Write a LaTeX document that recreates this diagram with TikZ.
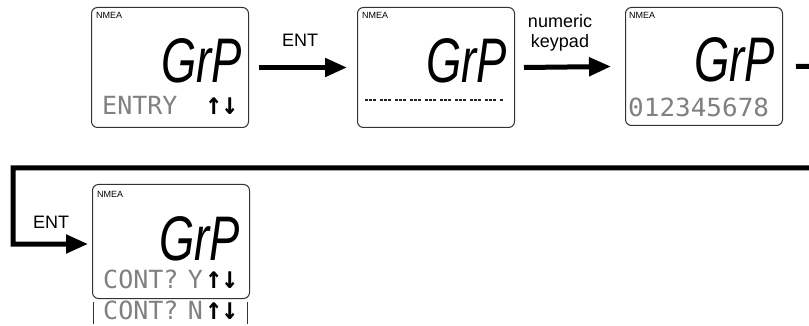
\documentclass[tikz,border=0pt]{standalone}
\usepackage{fontspec}
\setmainfont{Liberation Sans}
\newfontfamily\lcdfont{DejaVu Sans Mono}
\usetikzlibrary{arrows.meta}
\begin{document}
\begin{tikzpicture}[x=1pt,y=-1pt,
  lcdbox/.style={draw=black!80, line width=1pt, rounded corners=6pt, minimum width=157pt, minimum height=120pt, anchor=north west, inner sep=0pt},
  flow/.style={line width=5pt, -{Triangle[length=22pt,width=18pt]}},
  lbl/.style={font=\fontsize{18}{20}\selectfont, inner sep=0pt},
  nmea/.style={font=\fontsize{9}{9}\selectfont, inner sep=0pt, anchor=base west},
  seg/.style={font=\fontsize{63}{63}\selectfont\itshape, xscale=0.72, inner sep=0pt, anchor=base east, text height=46pt, text depth=0pt},
  dot/.style={font=\lcdfont\fontsize{25}{25}\selectfont, text=black!50, inner sep=0pt, text height=18pt, text depth=0pt},
  arr/.style={font=\lcdfont\bfseries\fontsize{27}{27}\selectfont, text=black, inner sep=0pt, anchor=base east, yscale=1.15, xscale=0.98, text height=14pt, text depth=0pt},
  bar/.style={draw=black!80, line width=1pt}
]
\useasboundingbox (0,0) rectangle (809,326);
\clip (0,0) rectangle (809,326);

% LCD boxes
\node[lcdbox] (b1) at (91,7) {};
\node[lcdbox] (b2) at (357,7) {};
\node[lcdbox, minimum height=118pt] (b3) at (625,7) {};
\node[lcdbox, minimum height=114pt] (b4) at (92,184) {};

% NMEA labels
\node[nmea] (n1) at (96,19) {NMEA};
\node[nmea] (n2) at (362,19) {NMEA};
\node[nmea] (n3) at (629,19) {NMEA};
\node[nmea] (n4) at (97,197) {NMEA};

% big segment text
\node[seg] (g1) at (242,83) {GrP};
\node[seg] (g2) at (507,83) {GrP};
\node[seg] (g3) at (775,82) {GrP};
\node[seg] (g4) at (240,260) {GrP};

% bottom lines of the displays
\node[dot, anchor=base west] (e1) at (102,115) {ENTRY};
\node[arr] (a1) at (238,115) {↑↓};
\draw[black!85, line width=1.6pt, dash pattern=on 3pt off 1pt on 3pt off 1pt on 3pt off 4pt] (365,100) -- (503,100);
\node[dot, anchor=base west, xscale=1.04] (d3) at (628,117) {012345678};
\node[dot, anchor=base west] (c4) at (103,288) {CONT?};
\node[dot, anchor=base east] (y4) at (203,288) {Y};
\node[arr] (a4) at (238,288) {↑↓};
\node[dot, anchor=base west] (c5) at (103,319) {CONT?};
\node[dot, anchor=base east] (y5) at (203,319) {N};
\node[arr] (a5) at (238,319) {↑↓};
\draw[bar] (93,302) -- (93,324);
\draw[bar] (247,302) -- (247,324);

% arrows
\draw[flow] ([xshift=10pt]b1.east) -- ([xshift=-10pt]b2.west);
\node[lbl, anchor=base] (t1) at (300,47) {ENT};
\draw[flow] ([xshift=9pt]b2.east) -- ([xshift=-14pt]b3.west);
\node[lbl, align=center, anchor=center] (t2) at (560,33) {numeric\\keypad};
\coordinate (r1) at (830,66);
\coordinate (r2) at (830,168);
\coordinate (l1) at (13,168);
\coordinate (l2) at (13,244);
\draw[flow] ([xshift=13pt]b3.east) -- (r1) -- (r2) -- (l1) -- (l2) -- ([xshift=-4pt]b4.west |- l2);
\node[lbl, anchor=base] (t3) at (51,228) {ENT};
\end{tikzpicture}
\end{document}
